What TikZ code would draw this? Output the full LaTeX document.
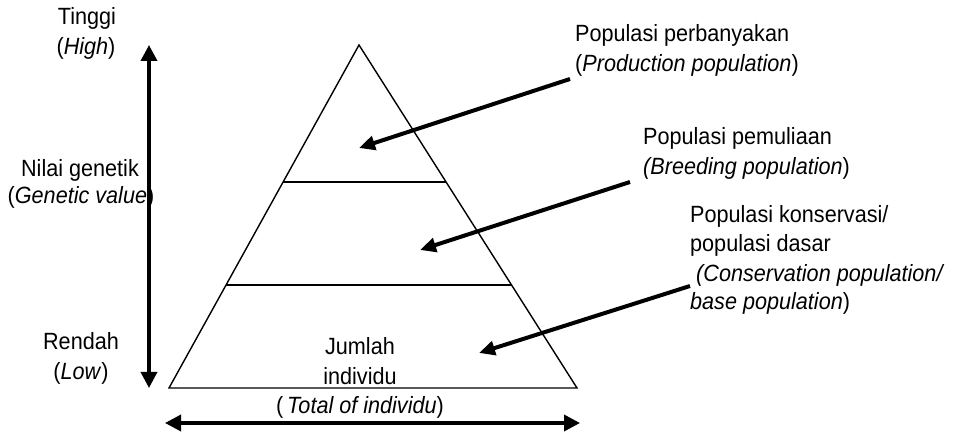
\documentclass[tikz,border=0pt]{standalone}
\usepackage{fontspec}
\setmainfont{Liberation Sans}[FakeStretch=0.92]
\usetikzlibrary{arrows.meta,calc}
\begin{document}
\begin{tikzpicture}[x=1pt,y=-1pt,
  lbl/.style={inner sep=0pt,font=\fontsize{23.5}{30}\selectfont},
  lw/.style={lbl,anchor=base west},
  lc/.style={lbl,anchor=base},
  pointer/.style={line width=4pt,-{Triangle[length=16pt,width=14pt]}},
  axisarrow/.style={line width=3.5pt,{Triangle[length=16pt,width=16pt]}-{Triangle[length=16pt,width=16pt]}},
  edge/.style={line width=1.4pt}]
\useasboundingbox (0,0) rectangle (954,435);

% pyramid
\coordinate (apex) at (359,45);
\coordinate (bl) at (169,388);
\coordinate (br) at (577,388);
\draw[edge,line join=miter] (apex) -- (br) -- (bl) -- cycle;
\coordinate (l1) at ($(apex)!0.3994!(bl)$);
\coordinate (r1) at ($(apex)!0.3994!(br)$);
\coordinate (l2) at ($(apex)!0.6997!(bl)$);
\coordinate (r2) at ($(apex)!0.6997!(br)$);
\draw[edge] (l1) -- (r1);
\draw[edge] (l2) -- (r2);

% axes
\coordinate (vtop) at (149,45);
\coordinate (vbot) at (149,388);
\draw[axisarrow] (vtop) -- (vbot);
\coordinate (hleft) at (165,423);
\coordinate (hright) at (580,423);
\draw[axisarrow] (hleft) -- (hright);

% left labels
\node[lc] (tinggi) at (87,25) {Tinggi};
\node[lc] (high) at (86,55) {(\textit{High})};
\node[lc] (nilai) at (80,177) {Nilai genetik};
\node[lc] (genval) at (81,204) {(\textit{Genetic value})};
\node[lc] (rendah) at (81,350) {Rendah};
\node[lc] (low) at (81,380) {(\textit{Low})};

% bottom labels
\node[lc] (jumlah) at (360,355) {Jumlah};
\node[lc] (indiv) at (360,385) {individu};
\node[lc] (total) at (360,414) {(\,\textit{Total of individu})};

% right labels
\node[lw] (prod1) at (575,42) {Populasi perbanyakan};
\node[lw] (prod2) at (575,72) {(\textit{Production population})};
\node[lw] (breed1) at (643,145) {Populasi pemuliaan};
\node[lw] (breed2) at (643,175) {\textit{(Breeding population})};
\node[lw] (cons1) at (690,223) {Populasi konservasi/};
\node[lw] (cons2) at (690,252) {populasi dasar};
\node[lw] (cons3) at (690,282) {\textit{\ (Conservation population/}};
\node[lw] (cons4) at (690,310) {\textit{base population})};

% pointers
\coordinate (p1s) at (570,79);
\coordinate (p1t) at (359,148);
\coordinate (p2s) at (630,182);
\coordinate (p2t) at (420,250);
\coordinate (p3s) at (690,286);
\coordinate (p3t) at (479,353);
\draw[pointer] (p1s) -- (p1t);
\draw[pointer] (p2s) -- (p2t);
\draw[pointer] (p3s) -- (p3t);
\end{tikzpicture}
\end{document}
